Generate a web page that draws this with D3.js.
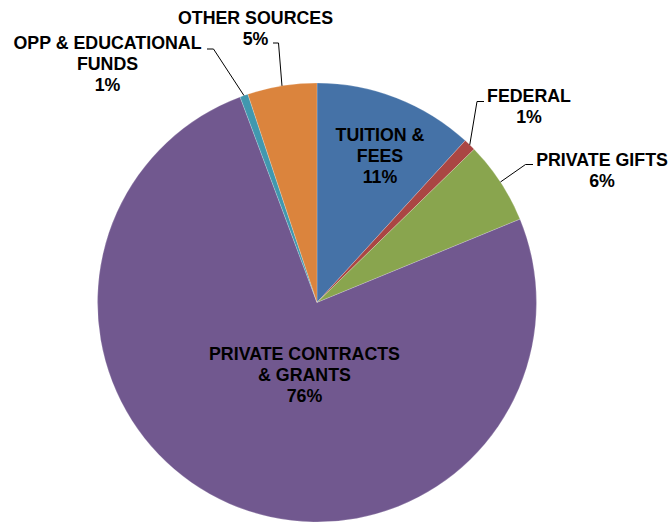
<!DOCTYPE html>
<html>
<head>
<meta charset="utf-8">
<script src="https://cdn.jsdelivr.net/npm/d3@7"></script>
<style>
  html, body { margin: 0; padding: 0; background: #fff; }
  svg { display: block; }
  text { font-family: "Liberation Sans", Arial, sans-serif; font-weight: bold; fill: #000; }
</style>
</head>
<body>
<svg id="chart" width="671" height="522"></svg>
<script>
// ---- data ----
const categories = ["TUITION & FEES", "FEDERAL", "PRIVATE GIFTS", "PRIVATE CONTRACTS & GRANTS", "OPP & EDUCATIONAL FUNDS", "OTHER SOURCES"];
const values = [11.8, 0.9, 6.1, 75.5, 0.6, 5.1];
const percentLabels = ["11%", "1%", "6%", "76%", "1%", "5%"];
const labelLines = [["TUITION &", "FEES"], ["FEDERAL"], ["PRIVATE GIFTS"], ["PRIVATE CONTRACTS", "& GRANTS"], ["OPP & EDUCATIONAL", "FUNDS"], ["OTHER SOURCES"]];
const colors = ["#4572A7", "#AA4643", "#89A54E", "#71588F", "#4198AF", "#DB843D"];

// ---- layout ----
const W = 671, H = 522;
const cx = 317, cy = 302.5, R = 219.5;
const fontSize = 17.8, lineH = 21;
// label anchor (center x, first baseline y) and leader elbow [outer end, elbow]
const labelLayout = {
  "TUITION & FEES": { x: 380, y: 140.5 },
  "FEDERAL": { x: 529, y: 101.5, leader: [[484, 101.5], [477, 101.5]] },
  "PRIVATE GIFTS": { x: 602, y: 166, leader: [[533, 164.5], [525.5, 164.5]] },
  "PRIVATE CONTRACTS & GRANTS": { x: 304.5, y: 360 },
  "OPP & EDUCATIONAL FUNDS": { x: 107.5, y: 48.5, leader: [[207, 49], [213.5, 49]] },
  "OTHER SOURCES": { x: 255.5, y: 24, leader: [[273, 43], [278.5, 43]] }
};

const svg = d3.select("#chart");
const g = svg.append("g").attr("transform", `translate(${cx},${cy})`);

const data = categories.map((c, i) => ({ cat: c, value: values[i], pct: percentLabels[i], lines: labelLines[i], color: colors[i] }));

const pie = d3.pie().sort(null).value(d => d.value);
const arcs = pie(data);
const arc = d3.arc().innerRadius(0).outerRadius(R);
const edgeArc = d3.arc().innerRadius(R).outerRadius(R);

g.selectAll("path.slice")
  .data(arcs)
  .enter().append("path")
  .attr("class", "slice")
  .attr("d", arc)
  .attr("fill", d => d.data.color)
  .attr("stroke", "#ffffff")
  .attr("stroke-width", 0.4)
  .attr("stroke-opacity", 0.5);

// leader lines
arcs.forEach(d => {
  const L = labelLayout[d.data.cat];
  if (!L.leader) return;
  const e = edgeArc.centroid(d);
  const pts = [L.leader[0], L.leader[1], [e[0] + cx, e[1] + cy]];
  svg.append("path")
    .attr("d", d3.line()(pts))
    .attr("fill", "none")
    .attr("stroke", "#000")
    .attr("stroke-width", 1);
});

// labels
arcs.forEach(d => {
  const L = labelLayout[d.data.cat];
  const t = svg.append("text")
    .attr("text-anchor", "middle")
    .attr("font-size", fontSize);
  const all = d.data.lines.concat([d.data.pct]);
  all.forEach((s, i) => {
    t.append("tspan").attr("x", L.x).attr("y", L.y + i * lineH).text(s);
  });
});
</script>
</body>
</html>
